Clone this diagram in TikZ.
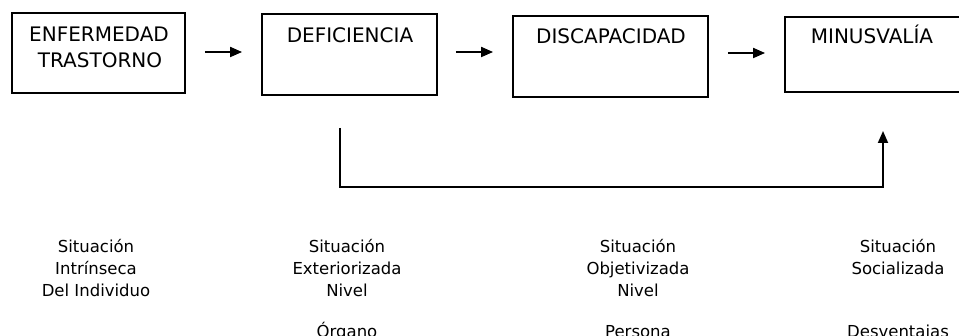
\documentclass[tikz,border=0pt]{standalone}
\usepackage{fontspec}
\setmainfont{DejaVu Sans}
\usetikzlibrary{arrows.meta}
\begin{document}
\begin{tikzpicture}[x=1pt,y=-1pt,
  box/.style={draw, line width=1.8pt, inner sep=0pt},
  lbl/.style={font=\fontsize{20}{24}\selectfont, inner sep=0pt, anchor=base},
  txt/.style={font=\fontsize{16.5}{20}\selectfont, inner sep=0pt, anchor=base},
  arr/.style={line width=1.8pt, line join=miter, -{Triangle[length=12pt,width=10pt]}}]
\useasboundingbox (0,0) rectangle (959,336);
% boxes
\node[box, minimum width=173pt, minimum height=80pt] (b1) at (98.5,53) {};
\node[box, minimum width=175pt, minimum height=81pt] (b2) at (349.5,54.5) {};
\node[box, minimum width=195pt, minimum height=81pt] (b3) at (610.5,56.5) {};
\node[box, minimum width=176pt, minimum height=75pt] (b4) at (873,54.5) {};
% box labels
\node[lbl] (t1a) at (99,42) {ENFERMEDAD};
\node[lbl] (t1b) at (100,68) {TRASTORNO};
\node[lbl] (t2) at (350,43) {DEFICIENCIA};
\node[lbl] (t3) at (611,44) {DISCAPACIDAD};
\node[lbl] (t4) at (872,44) {MINUSVALÍA};
% arrows between boxes
\draw[arr, shorten <=19pt, shorten >=19pt] (b1.east |- 0,52) -- (b2.west |- 0,52);
\draw[arr, shorten <=18pt, shorten >=19pt] (b2.east |- 0,52) -- (b3.west |- 0,52);
\draw[arr, shorten <=19pt, shorten >=19pt] (b3.east |- 0,53) -- (b4.west |- 0,53);
% feedback connector
\coordinate (fbL) at (340,128);
\coordinate (fbB) at (340,187);
\coordinate (fbR) at (883,131);
\draw[arr] (fbL) -- (fbB) -- (fbB -| fbR) -- (fbR);
% bottom descriptions
\node[txt] (c1a) at (96,253) {Situación};
\node[txt] (c1b) at (96,275) {Intrínseca};
\node[txt] (c1c) at (96,297) {Del Individuo};
\node[txt] (c2a) at (347,253) {Situación};
\node[txt] (c2b) at (347,275) {Exteriorizada};
\node[txt] (c2c) at (347,297) {Nivel};
\node[txt] (c2d) at (347,338) {Órgano};
\node[txt] (c3a) at (638,253) {Situación};
\node[txt] (c3b) at (638,275) {Objetivizada};
\node[txt] (c3c) at (638,297) {Nivel};
\node[txt] (c3d) at (638,338) {Persona};
\node[txt] (c4a) at (898,253) {Situación};
\node[txt] (c4b) at (898,275) {Socializada};
\node[txt] (c4d) at (898,338) {Desventajas};
\end{tikzpicture}
\end{document}
